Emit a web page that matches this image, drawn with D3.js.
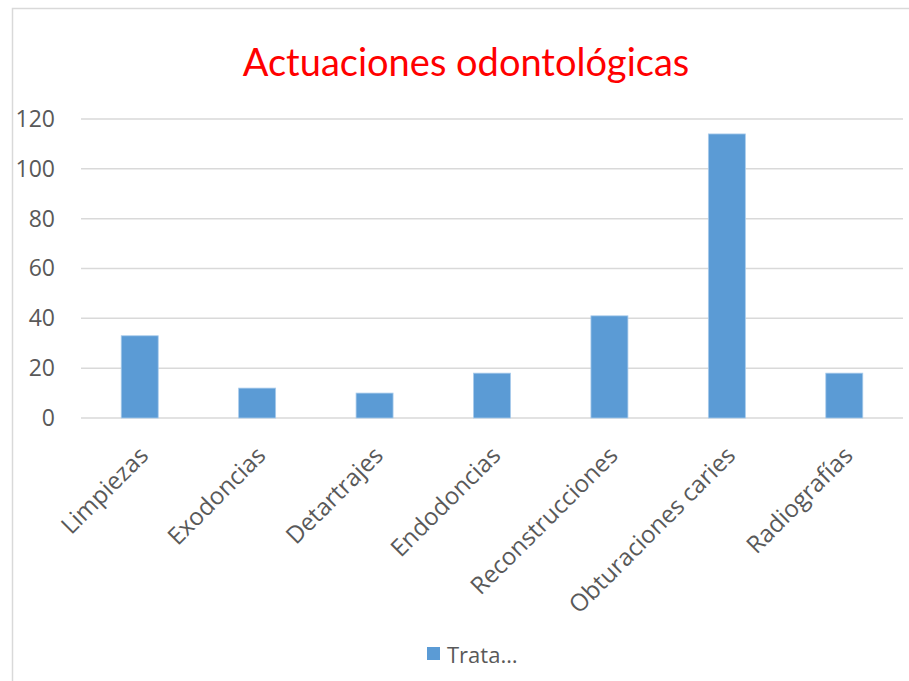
<!DOCTYPE html>
<html>
<head>
<meta charset="utf-8">
<script src="https://cdn.jsdelivr.net/npm/d3@7"></script>
<style>
  body { margin: 0; background: #fff; }
  svg { display: block; font-family: "Open Sans", sans-serif; }
</style>
</head>
<body>
<svg id="chart" width="909" height="681"></svg>
<script>
// data
const categories = ["Limpiezas", "Exodoncias", "Detartrajes", "Endodoncias", "Reconstrucciones", "Obturaciones caries", "Radiografías"];
const values = [33, 12, 10, 18, 41, 114, 18];
const yTicks = [0, 20, 40, 60, 80, 100, 120];
const seriesName = "Trata…";
const title = "Actuaciones odontológicas";

const svg = d3.select("#chart");
const margin = { left: 81, right: 6, top: 119, bottom: 263 };
const width = 909, height = 681;

// chart frame
svg.append("rect")
  .attr("x", 12.5).attr("y", 8.5)
  .attr("width", 920).attr("height", 700)
  .attr("fill", "#fff")
  .attr("stroke", "#d9d9d9")
  .attr("stroke-width", 1.5);

svg.append("text")
  .attr("x", 466).attr("y", 76)
  .attr("text-anchor", "middle")
  .attr("fill", "#ff0000")
  .style("font-family", "Lato, sans-serif")
  .style("font-size", "38px")
  .text(title);

const x = d3.scaleBand()
  .domain(categories)
  .range([margin.left, width - margin.right])
  .paddingInner(0.685)
  .paddingOuter(0.3425);

const y = d3.scaleLinear()
  .domain([0, 120])
  .range([height - margin.bottom, margin.top]);

// gridlines
svg.append("g")
  .selectAll("line")
  .data(yTicks)
  .join("line")
  .attr("x1", margin.left).attr("x2", width - margin.right)
  .attr("y1", d => y(d)).attr("y2", d => y(d))
  .attr("stroke", "#d9d9d9")
  .attr("stroke-width", 1.5);

// y axis labels
const yAxis = d3.axisLeft(y).tickValues(yTicks).tickSize(0).tickPadding(26);
svg.append("g")
  .attr("transform", `translate(${margin.left},0)`)
  .call(yAxis)
  .call(g => g.select(".domain").remove())
  .selectAll("text")
  .attr("fill", "#595959")
  .style("font-size", "23px")
  .style("font-family", "'Open Sans', sans-serif");

// bars
svg.append("g")
  .selectAll("rect")
  .data(values)
  .join("rect")
  .attr("x", (d, i) => x(categories[i]))
  .attr("y", d => y(d))
  .attr("width", x.bandwidth())
  .attr("height", d => y(0) - y(d))
  .attr("fill", "#5b9bd5")
  .attr("stroke", "#a9cbeb")
  .attr("stroke-width", 0.8);

// category labels, rotated
const xAxis = d3.axisBottom(x).tickSize(0).tickPadding(0);
svg.append("g")
  .attr("transform", `translate(0,${y(0)})`)
  .call(xAxis)
  .call(g => g.select(".domain").remove())
  .selectAll("text")
  .attr("fill", "#595959")
  .style("font-size", "24px")
  .style("font-family", "'Open Sans', sans-serif")
  .attr("text-anchor", "end")
  .attr("dy", null)
  .attr("transform", "translate(10,39) rotate(-45)");

// legend
const legend = svg.append("g").attr("transform", "translate(427,647)");
legend.append("rect")
  .attr("width", 13).attr("height", 13)
  .attr("fill", "#5b9bd5");
legend.append("text")
  .attr("x", 20).attr("y", 16)
  .attr("fill", "#595959")
  .style("font-size", "22px")
  .text(seriesName);
</script>
</body>
</html>
